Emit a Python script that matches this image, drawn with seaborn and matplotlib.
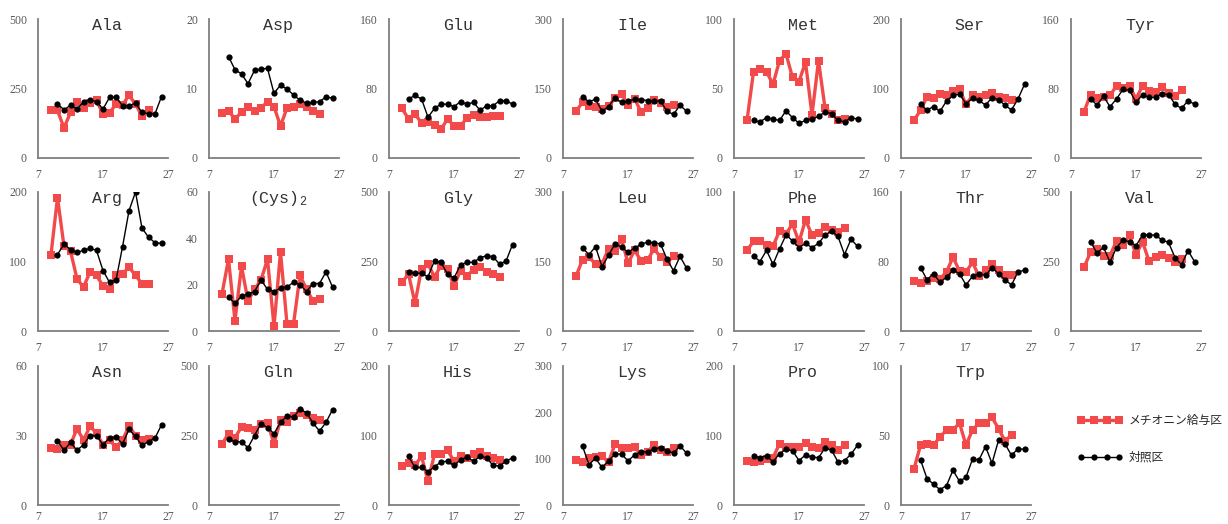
import matplotlib
matplotlib.use('Agg')
import pandas as pd
import matplotlib.pyplot as plt
import seaborn as sns
from matplotlib.lines import Line2D

# days of sampling
# -----------------------------------------------------------------------------
days_met = [9, 10, 11, 12, 13, 14, 15, 16, 17, 18, 19, 20, 21, 22, 23, 24]
days_ctl = [10, 11, 12, 13, 14, 15, 16, 17, 18, 19, 20, 21, 22, 23, 24, 25, 26]

# amino acid values (met = methionine group, ctl = control group)
# -----------------------------------------------------------------------------
ala_met = [171, 171, 108, 164, 203, 179, 197, 207, 158, 161, 195, 191, 225, 195, 150, 173]
ala_ctl = [195, 173, 190, 176, 202, 209, 203, 176, 218, 219, 188, 188, 197, 164, 159, 159, 221]
asp_met = [6.5, 6.8, 5.6, 6.6, 7.4, 6.8, 7.2, 8.1, 7.4, 4.6, 7.2, 7.4, 7.8, 7.4, 6.8, 6.4]
asp_ctl = [14.6, 12.7, 12.1, 10.7, 12.6, 12.8, 12.9, 9.3, 10.5, 9.9, 9.1, 8.3, 7.9, 8.0, 8.1, 8.8, 8.6]
glu_met = [57, 45, 51, 40, 42, 38, 33, 45, 37, 37, 46, 50, 47, 47, 48, 48]
glu_ctl = [68, 72, 68, 47, 57, 62, 62, 59, 65, 62, 64, 55, 60, 60, 66, 66, 62]
ile_met = [101, 120, 113, 109, 106, 112, 129, 138, 115, 128, 100, 107, 125, 118, 111, 114]
ile_ctl = [132, 121, 127, 101, 111, 130, 120, 123, 127, 126, 124, 123, 123, 101, 94, 114, 101]
met_met = [27, 62, 64, 62, 53, 70, 75, 58, 55, 69, 31, 70, 36, 32, 27, 28]
met_ctl = [27, 26, 29, 28, 27, 34, 29, 25, 27, 28, 30, 33, 32, 27, 26, 29, 28]
ser_met = [54, 69, 88, 86, 92, 90, 97, 99, 77, 90, 88, 90, 93, 88, 86, 84]
ser_ctl = [77, 69, 74, 67, 82, 90, 92, 78, 86, 83, 76, 87, 84, 76, 69, 85, 106]
tyr_met = [53, 73, 69, 70, 72, 83, 81, 83, 68, 83, 77, 76, 82, 75, 71, 78]
tyr_ctl = [68, 61, 71, 59, 68, 79, 78, 64, 73, 70, 70, 74, 73, 62, 57, 66, 62]

arg_met = [110, 192, 122, 115, 75, 63, 85, 80, 65, 60, 80, 82, 92, 80, 68, 68]
arg_ctl = [110, 125, 117, 113, 116, 119, 116, 87, 70, 73, 121, 173, 200, 148, 135, 127, 126]
cys_met = [16, 31, 4.5, 28, 13, 18, 22, 31, 2, 34, 3, 3, 24, 18, 13, 14]
cys_ctl = [14.5, 12, 15, 16, 17, 22, 18, 17, 18.5, 19, 21, 20, 17, 20.5, 20.5, 25.5, 19]
gly_met = [175, 205, 100, 223, 241, 195, 235, 223, 163, 217, 199, 220, 229, 214, 205, 196]
gly_ctl = [214, 207, 208, 195, 253, 247, 205, 190, 239, 247, 247, 263, 271, 267, 241, 251, 311]
leu_met = [118, 154, 159, 145, 145, 177, 172, 199, 146, 174, 152, 153, 177, 160, 148, 161]
leu_ctl = [179, 165, 182, 139, 163, 188, 181, 170, 179, 187, 192, 190, 188, 155, 130, 161, 136]
phe_met = [58, 64.5, 64.5, 62, 61, 72, 70, 77, 64, 80, 69, 70.5, 75, 73, 71, 74]
phe_ctl = [54, 50, 58, 48, 59, 69, 65, 60, 63, 60, 63, 69, 72, 68, 55, 66, 61]
thr_met = [58, 55, 57, 61, 60, 68, 85, 69, 68, 79, 63, 70, 77, 70, 64, 64]
thr_ctl = [73, 59, 66, 56, 62, 70, 66, 53, 63, 66, 64, 73, 66, 59, 53, 68, 70]
val_met = [229, 283, 295, 271, 271, 324, 310, 345, 274, 321, 252, 265, 274, 262, 248, 260]
val_ctl = [321, 280, 301, 248, 300, 327, 321, 307, 345, 345, 345, 327, 319, 264, 238, 289, 250]

asn_met = [24.7, 24.3, 26, 26, 33, 28, 34, 31, 26, 28, 25, 28, 34, 30, 28, 28.5]
asn_ctl = [27.7, 23.6, 27, 23.6, 26, 30, 30, 26, 29, 29.3, 26.4, 32.6, 29.6, 25.7, 27.4, 28.9, 34.6]
gln_met = [219, 257, 242, 281, 278, 269, 293, 295, 221, 305, 299, 320, 331, 323, 313, 304]
gln_ctl = [239, 227, 227, 206, 250, 293, 278, 257, 297, 320, 317, 344, 332, 295, 266, 297, 343]
his_met = [56, 60, 57, 70, 35, 73, 74, 79, 63, 71, 68, 73, 76, 70, 67, 65]
his_ctl = [70, 54, 54, 48, 55, 62, 63, 57, 65, 69, 63, 70, 68, 57, 56, 63, 68]
lys_met = [98, 92, 101, 104, 106, 92, 132, 124, 122, 126, 108, 115, 130, 119, 115, 124]
lys_ctl = [127, 87, 101, 81, 95, 110, 110, 95, 108, 115, 115, 121, 124, 117, 112, 128, 112]
pro_met = [64, 62, 64, 66, 68, 88, 84, 83, 84, 89, 83, 82, 91, 86, 79, 86]
pro_ctl = [71, 68, 71, 62, 74, 80, 78, 64, 72, 69, 68, 82, 79, 62, 64, 73, 86]
trp_met = [26, 43, 44, 43, 49, 54, 54, 59, 43, 54, 59, 59, 63, 55, 46, 50.5]
trp_ctl = [32.5, 19, 15, 11, 14, 25, 17, 20, 33, 32.5, 42, 30, 46.5, 44, 35.7, 40.5, 40]

# panel name, values, y ticks
panels = [
    ('Ala', ala_met, ala_ctl, [0, 250, 500]),
    ('Asp', asp_met, asp_ctl, [0, 10, 20]),
    ('Glu', glu_met, glu_ctl, [0, 80, 160]),
    ('Ile', ile_met, ile_ctl, [0, 150, 300]),
    ('Met', met_met, met_ctl, [0, 50, 100]),
    ('Ser', ser_met, ser_ctl, [0, 100, 200]),
    ('Tyr', tyr_met, tyr_ctl, [0, 80, 160]),
    ('Arg', arg_met, arg_ctl, [0, 100, 200]),
    ('(Cys)$_2$', cys_met, cys_ctl, [0, 20, 40, 60]),
    ('Gly', gly_met, gly_ctl, [0, 250, 500]),
    ('Leu', leu_met, leu_ctl, [0, 150, 300]),
    ('Phe', phe_met, phe_ctl, [0, 50, 100]),
    ('Thr', thr_met, thr_ctl, [0, 80, 160]),
    ('Val', val_met, val_ctl, [0, 250, 500]),
    ('Asn', asn_met, asn_ctl, [0, 30, 60]),
    ('Gln', gln_met, gln_ctl, [0, 250, 500]),
    ('His', his_met, his_ctl, [0, 100, 200]),
    ('Lys', lys_met, lys_ctl, [0, 100, 200, 300]),
    ('Pro', pro_met, pro_ctl, [0, 100, 200]),
    ('Trp', trp_met, trp_ctl, [0, 50, 100]),
]
label_met = 'メチオニン給与区'
label_ctl = '対照区'

# style
# -----------------------------------------------------------------------------
sns.set_style('white')
plt.rcParams['font.family'] = ['Liberation Serif', 'DejaVu Sans']
plt.rcParams['mathtext.default'] = 'regular'
red = '#F24A4A'
grey = '#7F7F7F'

fig = plt.figure(figsize=(12.28, 5.24), dpi=100)
W, H = 1228.0, 524.0
col_left = [38, 209, 389, 563, 734, 901, 1071]
row_top = [19, 192, 366]
ax_w, ax_h = 130, 139

for i, (name, v_met, v_ctl, yticks) in enumerate(panels):
    r, c = divmod(i, 7)
    ax = fig.add_axes([col_left[c] / W, 1 - (row_top[r] + ax_h) / H,
                       ax_w / W, ax_h / H])
    df_m = pd.DataFrame({'day': days_met, 'value': v_met})
    df_c = pd.DataFrame({'day': days_ctl, 'value': v_ctl})
    sns.lineplot(data=df_m, x='day', y='value', color=red, lw=2.4,
                 marker='s', markersize=5.5, markeredgewidth=0, ax=ax)
    sns.lineplot(data=df_c, x='day', y='value', color='black', lw=1.0,
                 marker='o', markersize=4.5, markeredgewidth=0, ax=ax)
    ax.set_xlim(7, 27)
    ax.set_ylim(yticks[0], yticks[-1])
    ax.set_xticks([7, 17, 27])
    ax.set_yticks(yticks)
    ax.set_xlabel('')
    ax.set_ylabel('')
    for s in ['top', 'right']:
        ax.spines[s].set_visible(False)
    for s in ['left', 'bottom']:
        ax.spines[s].set_color(grey)
        ax.spines[s].set_linewidth(1.3)
    ax.tick_params(length=0, labelsize=8.5, labelcolor='#595959', pad=8)
    if r == 2:
        # keep the bottom row labels inside the figure
        ax.tick_params(axis='x', pad=4)
    ax.text(0.53, 0.955, name, transform=ax.transAxes, ha='center',
            va='center', fontsize=12, color='#333333',
            family=['Liberation Mono', 'DejaVu Sans'])

# legend in the empty slot
# -----------------------------------------------------------------------------
custom_lines = [Line2D([0], [0], color=red, lw=2.4, marker='s',
                       markersize=5.5, markeredgewidth=0),
                Line2D([0], [0], color='black', lw=1.0, marker='o',
                       markersize=4.5, markeredgewidth=0),
                ]
fig.legend(custom_lines, [label_met, label_ctl],
           loc='center left',
           bbox_to_anchor=(1072 / W, 1 - 439 / H),
           frameon=False,
           numpoints=4,
           handlelength=3.8,
           handletextpad=0.5,
           labelspacing=2.0,
           borderpad=0,
           prop={'family': ['Noto Sans CJK JP', 'DejaVu Sans'], 'size': 8.5},
           )

plt.savefig('out.png', dpi=100)
